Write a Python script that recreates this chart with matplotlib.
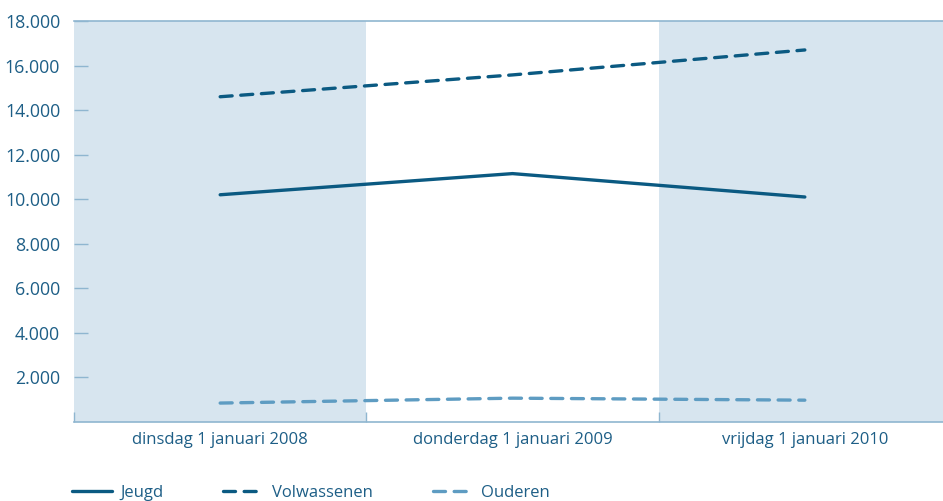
import numpy as np
import matplotlib.pyplot as plt
from matplotlib.ticker import FuncFormatter

# data
categories = ['dinsdag 1 januari 2008', 'donderdag 1 januari 2009', 'vrijdag 1 januari 2010']
jeugd = [10200, 11150, 10100]
volwassenen = [14600, 15580, 16700]
ouderen = [850, 1070, 980]
yticks = [2000, 4000, 6000, 8000, 10000, 12000, 14000, 16000, 18000]

dark = '#0b5a82'
light = '#5e9cc2'
band = '#d7e5ef'
txt = '#1d5e86'
spine = '#8fb6d0'

plt.rcParams['font.family'] = ['Open Sans', 'DejaVu Sans']

fig = plt.figure(figsize=(9.43, 5.01), dpi=100)
# plot area runs a little past the right edge of the image
ax = fig.add_axes([74 / 943, 79 / 501, 877 / 943, 401 / 501])

x = np.arange(len(categories))

# alternating shaded category bands
for i in x:
    if i % 2 == 0:
        ax.axvspan(i - 0.5, i + 0.5, color=band, lw=0, zorder=0)

ax.plot(x, jeugd, color=dark, lw=2.4, solid_capstyle='round', label='Jeugd')
ax.plot(x, volwassenen, color=dark, lw=2.4, dashes=(3.6, 2.6),
        dash_capstyle='round', label='Volwassenen')
ax.plot(x, ouderen, color=light, lw=2.4, dashes=(3.6, 2.6),
        dash_capstyle='round', label='Ouderen')

ax.set_xlim(-0.5, len(categories) - 0.5)
ax.set_ylim(0, 18000)

ax.set_xticks(x)
ax.set_xticklabels(categories)
ax.set_xticks(np.arange(len(categories) + 1) - 0.5, minor=True)
ax.tick_params(axis='x', which='major', length=0, pad=7, labelsize=12, labelcolor=txt)
ax.tick_params(axis='x', which='minor', direction='in', length=7, color=spine, width=1)

ax.set_yticks(yticks)
ax.yaxis.set_major_formatter(FuncFormatter(lambda v, p: f'{int(v):,}'.replace(',', '.')))
ax.tick_params(axis='y', direction='in', length=10, color=spine, width=1,
               pad=10, labelsize=12.8, labelcolor=txt)

for s in ['left', 'right']:
    ax.spines[s].set_visible(False)
ax.spines['top'].set_color(spine)
ax.spines['bottom'].set_color(spine)
ax.spines['top'].set_linewidth(1.2)
ax.spines['bottom'].set_linewidth(1.2)

fig.legend(loc='center left', bbox_to_anchor=(72 / 943, 8 / 501), ncol=3,
           frameon=False, fontsize=12, labelcolor=txt, handlelength=2.4,
           handletextpad=0.5, columnspacing=3.6, borderpad=0, borderaxespad=0)

fig.savefig('out.png', dpi=100)
